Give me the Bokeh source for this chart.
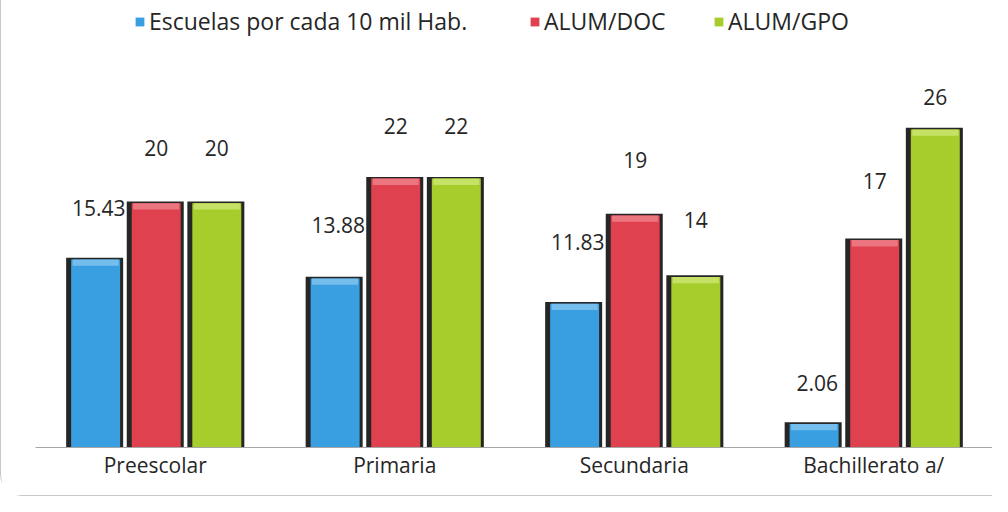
from bokeh.plotting import figure
from bokeh.models import (ColumnDataSource, FactorRange, Range1d, Legend, LegendItem)
from bokeh.transform import dodge
from bokeh.core.properties import value
from bokeh.embed import file_html
from bokeh.resources import INLINE

# ---- data ----
categories = ["Preescolar", "Primaria", "Secundaria", "Bachillerato a/"]
escuelas = [15.43, 13.88, 11.83, 2.06]
alum_doc = [20, 22, 19, 17]
alum_gpo = [20, 22, 14, 26]
series_names = ["Escuelas por cada 10 mil Hab.", "ALUM/DOC", "ALUM/GPO"]

# ---- styles ----
FONT = "Open Sans"
colors = ["#3a9fe0", "#e0414f", "#a7cd2c"]
tops = ["#74bdec", "#eb7680", "#c6e266"]
edge = "#262626"
label_dy = [[-50, -52, -60, -39], [-53, -51, -54, -57], [-53, -51, -55, -31]]
label_dx = [4, 1, 1]
offsets = [-0.253, 0.0, 0.253]
BAR_W = 0.238
INNER_W = 0.2045
INNER_SHIFT = 0.004
legend_x = [99, 494, 678]   # px from frame left, one legend box per series

p = figure(width=992, height=496, x_range=FactorRange(*categories, range_padding=0),
           y_range=Range1d(0, 36.34), output_backend="svg", toolbar_location=None,
           min_border_left=34, min_border_right=0, min_border_top=0, min_border_bottom=49,
           outline_line_color=None, background_fill_color="white", border_fill_color="white")
p.styles = {"border-left": "1px solid #c8c8c8", "border-bottom": "1px solid #c8c8c8",
            "border-bottom-left-radius": "22px"}

for i, vals in enumerate([escuelas, alum_doc, alum_gpo]):
    if i == 0:
        txt = [f"{v:.2f}" for v in vals]
    else:
        txt = [f"{v:g}" for v in vals]
    src = ColumnDataSource(dict(
        cat=categories, top=vals,
        inner_top=[v - 0.14 for v in vals],
        hl_bottom=[v - 0.65 for v in vals],
        txt=txt, dy=label_dy[i]))
    # dark 3D edges
    p.vbar(x=dodge("cat", offsets[i], range=p.x_range), top="top", bottom=0, width=BAR_W,
           source=src, fill_color=edge, line_color=None)
    # coloured body
    r = p.vbar(x=dodge("cat", offsets[i] + INNER_SHIFT, range=p.x_range), top="inner_top", bottom=0,
               width=INNER_W, source=src, fill_color=colors[i], line_color=None)
    # bevel highlight on top
    p.vbar(x=dodge("cat", offsets[i] + INNER_SHIFT, range=p.x_range), top="inner_top", bottom="hl_bottom",
           width=INNER_W - 0.012, source=src, fill_color=tops[i], line_color=None)
    # data labels
    p.text(x=dodge("cat", offsets[i], range=p.x_range), y="top", text="txt", source=src,
           x_offset=label_dx[i], y_offset="dy", text_align="center", text_baseline="middle",
           text_font=value(FONT), text_font_size="21px", text_color="#262626")
    legend = Legend(items=[LegendItem(label=series_names[i], renderers=[r])],
                    orientation="horizontal", location=(legend_x[i], 410),
                    glyph_width=11, glyph_height=11, label_standoff=4,
                    padding=0, margin=0, background_fill_alpha=0, border_line_color=None,
                    label_text_font=FONT, label_text_font_size="23px", label_text_color="#262626")
    p.add_layout(legend, "center")

p.xaxis.axis_line_color = "#a6a6a6"
p.xaxis.major_tick_line_color = None
p.xaxis.minor_tick_line_color = None
p.xaxis.major_label_text_font = FONT
p.xaxis.major_label_text_font_size = "21px"
p.xaxis.major_label_text_color = "#262626"
p.xaxis.major_label_standoff = -3
p.yaxis.visible = False
p.xgrid.grid_line_color = None
p.ygrid.grid_line_color = None

open("out.html", "w").write(file_html(p, INLINE))
